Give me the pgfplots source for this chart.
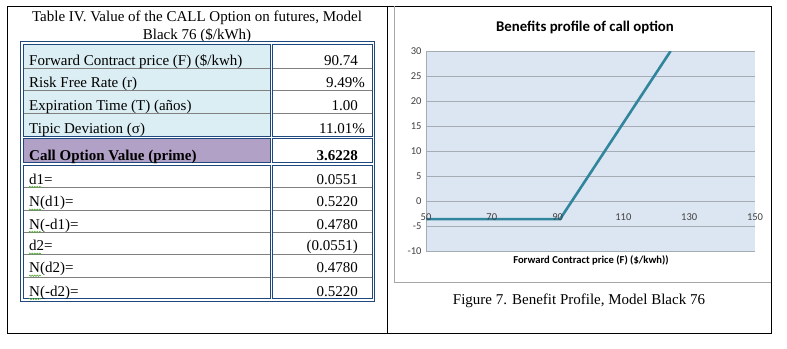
\documentclass[border=0pt]{standalone}
\usepackage{pgfplots}
\pgfplotsset{compat=1.18}
\usepackage{fontspec}
\setmainfont{Liberation Serif}
\newfontfamily\carlito{Carlito}
\usetikzlibrary{decorations.pathmorphing}
\definecolor{navy}{RGB}{31,73,125}
\definecolor{rowgray}{RGB}{128,128,128}
\definecolor{cellblue}{RGB}{219,238,243}
\definecolor{cellpurple}{RGB}{178,161,199}
\definecolor{bgblue}{RGB}{220,230,242}
\definecolor{gridgray}{RGB}{166,172,180}
\definecolor{teal}{RGB}{49,133,156}
\definecolor{squig}{RGB}{90,170,60}
\pgfplotsset{
  layers/labelsontop/.define layer set={
    axis background,axis grid,axis ticks,axis lines,pre main,main,axis tick labels,axis descriptions,axis foreground
  }{/pgfplots/layers/standard},
}
\begin{document}
\begin{tikzpicture}[x=1pt,y=-1pt]
\path (0,0) rectangle (787,348);
% outer frame
\draw[black, line width=1pt] (7,6) rectangle (771,333);
\draw[black, line width=1pt] (387,6) -- (387,333);
% chart frame
\draw[gray!70, line width=0.8pt] (394,6) -- (394,282) -- (771,282);
% table title
\node[anchor=base, font=\fontsize{15}{17}\selectfont] at (197,21.5) {Table IV. Value of the CALL Option on futures, Model};
\node[anchor=base, font=\fontsize{15}{17}\selectfont] at (197,39) {Black 76 (\$/kWh)};
% table borders
\draw[navy, line width=0.8pt] (20.7,41.7) rectangle (374.5,301);
\draw[navy, line width=0.8pt, fill=cellblue] (23.3,43.9) rectangle (270.2,136.7);
\draw[navy, line width=0.8pt, fill=white] (272.7,43.9) rectangle (372.3,136.7);
\draw[navy, line width=0.8pt, fill=cellpurple] (23.3,138.7) rectangle (270.2,162.8);
\draw[navy, line width=0.8pt, fill=white] (272.7,138.7) rectangle (372.3,162.8);
\draw[navy, line width=0.8pt] (23.3,165) rectangle (270.2,298.8);
\draw[navy, line width=0.8pt] (272.7,165) rectangle (372.3,298.8);
\foreach \yy in {68.3,90.7,113.3} {
  \draw[rowgray, line width=0.8pt] (23.7,\yy) -- (269.8,\yy);
  \draw[rowgray, line width=0.8pt] (273.1,\yy) -- (371.9,\yy);
}
\foreach \yy in {187.7,210,232.7,254.3,277} {
  \draw[rowgray, line width=0.8pt] (23.7,\yy) -- (269.8,\yy);
  \draw[rowgray, line width=0.8pt] (273.1,\yy) -- (371.9,\yy);
}
% table text
\begin{scope}[every node/.style={font=\fontsize{15}{17}\selectfont, inner sep=0pt}]
\node[anchor=base west] at (29,65.5) {Forward Contract price (F) (\$/kwh)};
\node[anchor=base east] at (358,65.5) {90.74};
\node[anchor=base west] at (29,87.5) {Risk Free Rate (r)};
\node[anchor=base east] at (365,87.5) {9.49\%};
\node[anchor=base west] at (29,110) {Expiration Time (T) (años)};
\node[anchor=base east] at (358,110) {1.00};
\node[anchor=base west] at (29,133) {Tipic Deviation (σ)};
\node[anchor=base east] at (365,133) {11.01\%};
\node[anchor=base west] at (29,160) {\bfseries Call Option Value (prime)};
\node[anchor=base east] at (358,160) {\bfseries 3.6228};
\node[anchor=base west] at (29,184) {d1=};
\node[anchor=base east] at (358,184) {0.0551};
\node[anchor=base west] at (29,206.7) {N(d1)=};
\node[anchor=base east] at (358,206.7) {0.5220};
\node[anchor=base west] at (29,229) {N(-d1)=};
\node[anchor=base east] at (358,229) {0.4780};
\node[anchor=base west] at (29,250.7) {d2=};
\node[anchor=base east] at (358,250.7) {(0.0551)};
\node[anchor=base west] at (29,272.7) {N(d2)=};
\node[anchor=base east] at (358,272.7) {0.4780};
\node[anchor=base west] at (29,296) {N(-d2)=};
\node[anchor=base east] at (358,296) {0.5220};
\end{scope}
% spelling squiggles
\begin{scope}[squig, line width=0.6pt, decorate, decoration={snake, segment length=2.5pt, amplitude=0.7pt}]
\foreach \yy in {187,209.7,232,253.7,275.7,299} {
  \draw[decorate] (29,\yy) -- (41,\yy);
}
\end{scope}
% chart
\node[font=\carlito\bfseries\fontsize{14.8}{17}\selectfont] at (585,27) {Benefits profile of call option};
\begin{axis}[
  set layers=labelsontop,
  at={(426pt,-251pt)}, anchor=south west,
  width=329pt, height=200pt, scale only axis,
  xmin=50, xmax=150, ymin=-10, ymax=30,
  axis x line=middle, axis y line=left,
  axis line style={-, draw=gridgray, line width=1pt},
  xtick={50,70,...,150}, ytick={-10,-5,...,30},
  hide obscured x ticks=false, hide obscured y ticks=false,
  major tick length=0pt, tick style={draw=none},
  ymajorgrids, major grid style={draw=gridgray, line width=1pt},
  axis background/.style={fill=bgblue},
  /pgf/number format/assume math mode=true,
  ticklabel style={font=\carlito\fontsize{10.5}{12}\selectfont, text=black!75},
  yticklabel style={xshift=-1pt},
  xticklabel style={anchor=center, yshift=-16pt},
]
\addplot[teal, line width=2.6pt] coordinates {(50,-3.6228) (90.74,-3.6228) (124.3628,30)};
\end{axis}
\node[font=\carlito\bfseries\fontsize{10.6}{12}\selectfont] at (591,260) {Forward Contract price (F) (\$/kwh))};
\node[font=\fontsize{15}{17}\selectfont] at (579,301) {Figure 7. Benefit Profile, Model Black 76};
\end{tikzpicture}
\end{document}
